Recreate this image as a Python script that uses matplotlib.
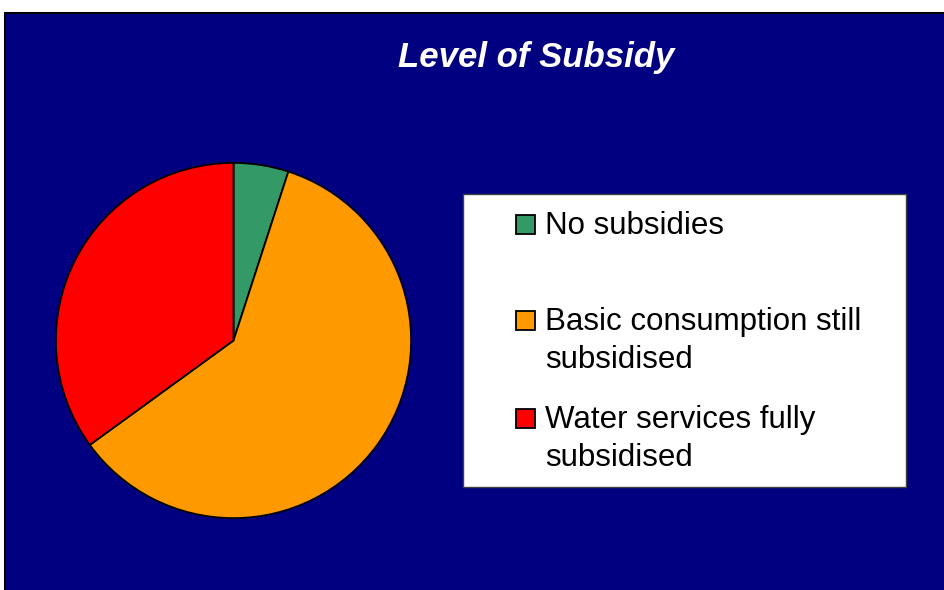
import matplotlib.pyplot as plt
from matplotlib.patches import Rectangle

plt.rcParams['font.family'] = ['Liberation Sans', 'DejaVu Sans']

# data
labels = ['No subsidies', 'Basic consumption still\nsubsidised', 'Water services fully\nsubsidised']
shares = [5, 60, 35]
colours = ['#339966', '#FF9900', '#FF0000']

W, H = 944, 590
fig = plt.figure(figsize=(W / 100, H / 100), dpi=100)
fig.patch.set_facecolor('white')

def fx(px):
    return px / W

def fy(py):
    return 1 - py / H

# navy chart area with black frame
fig.patches.append(Rectangle((fx(5), -0.01), 1 - fx(5) + 0.01, fy(13) + 0.01, transform=fig.transFigure,
                             facecolor='#000080', edgecolor='black', linewidth=1.5, zorder=-5))

fig.text(fx(536), fy(67), 'Level of Subsidy', color='white', fontsize=25, fontweight='bold',
         fontstyle='italic', ha='center', va='baseline')

# pie
ax = fig.add_axes([fx(55), fy(519), fx(357), 357 / H])
ax.pie(shares, colors=colours, startangle=90, counterclock=False,
       wedgeprops=dict(edgecolor='black', linewidth=1.3))
ax.set_xlim(-1.005, 1.005)
ax.set_ylim(-1.005, 1.005)
ax.set_aspect('equal')
ax.axis('off')
ax.set_zorder(2)

# legend box
fig.patches.append(Rectangle((fx(463), fy(487)), fx(906 - 463), (487 - 194) / H,
                             transform=fig.transFigure, facecolor='white',
                             edgecolor='#404040', linewidth=1, zorder=1))
baselines = [234, 330, 428]
for lab, col, by in zip(labels, colours, baselines):
    fig.patches.append(Rectangle((fx(516), fy(by)), fx(19), 19 / H,
                                 transform=fig.transFigure, facecolor=col,
                                 edgecolor='black', linewidth=1.3, zorder=2))
    # one text per line so the square sits on the first line
    for i, line in enumerate(lab.split('\n')):
        fig.text(fx(545), fy(by + 38 * i), line, fontsize=22.5, color='black',
                 ha='left', va='baseline', zorder=3)

fig.savefig('out.png', dpi=100)
